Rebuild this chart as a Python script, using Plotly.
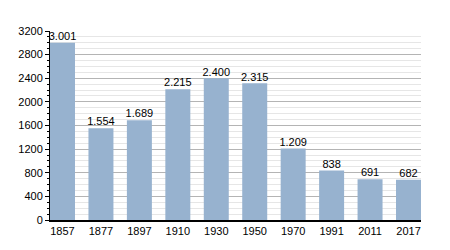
import plotly.graph_objects as go

years = ["1857", "1877", "1897", "1910", "1930", "1950", "1970", "1991", "2011", "2017"]
population = [3001, 1554, 1689, 2215, 2400, 2315, 1209, 838, 691, 682]
labels = ["3.001", "1.554", "1.689", "2.215", "2.400", "2.315", "1.209", "838", "691", "682"]
y_ticks = [0, 400, 800, 1200, 1600, 2000, 2400, 2800, 3200]

bar_frac = 0.65
fig = go.Figure()
fig.add_trace(go.Bar(
    x=years, y=population,
    marker=dict(color="#97b2cf", line=dict(width=0)),
    hoverinfo="x+y",
))
fig.add_trace(go.Scatter(
    x=years, y=population, text=labels, mode="text", textposition="top center",
    textfont=dict(family="Liberation Sans, Arial", size=11, color="black"),
    cliponaxis=False, hoverinfo="skip",
))
fig.update_layout(
    width=450, height=250,
    margin=dict(l=50, r=29, t=31, b=30),
    paper_bgcolor="white", plot_bgcolor="white",
    bargap=1 - bar_frac,
    showlegend=False,
    font=dict(family="Liberation Sans, Arial", size=11, color="black"),
)
fig.update_xaxes(
    type="category", showline=True, linecolor="black", linewidth=2,
    range=[-bar_frac / 2, len(years) - 1 + bar_frac / 2],
    ticks="", showgrid=False, tickfont=dict(size=11),
)
fig.update_yaxes(
    range=[0, 3200], tickvals=y_ticks, showline=True, linecolor="black", linewidth=1,
    ticks="outside", ticklen=4, tickcolor="black",
    showgrid=True, gridcolor="#b4b4b4", gridwidth=1,
    minor=dict(dtick=100, showgrid=True, gridcolor="#e6e6e6", ticks="outside", ticklen=2, tickcolor="black"),
    zeroline=False, tickfont=dict(size=11),
)
fig.write_html("out.html")
